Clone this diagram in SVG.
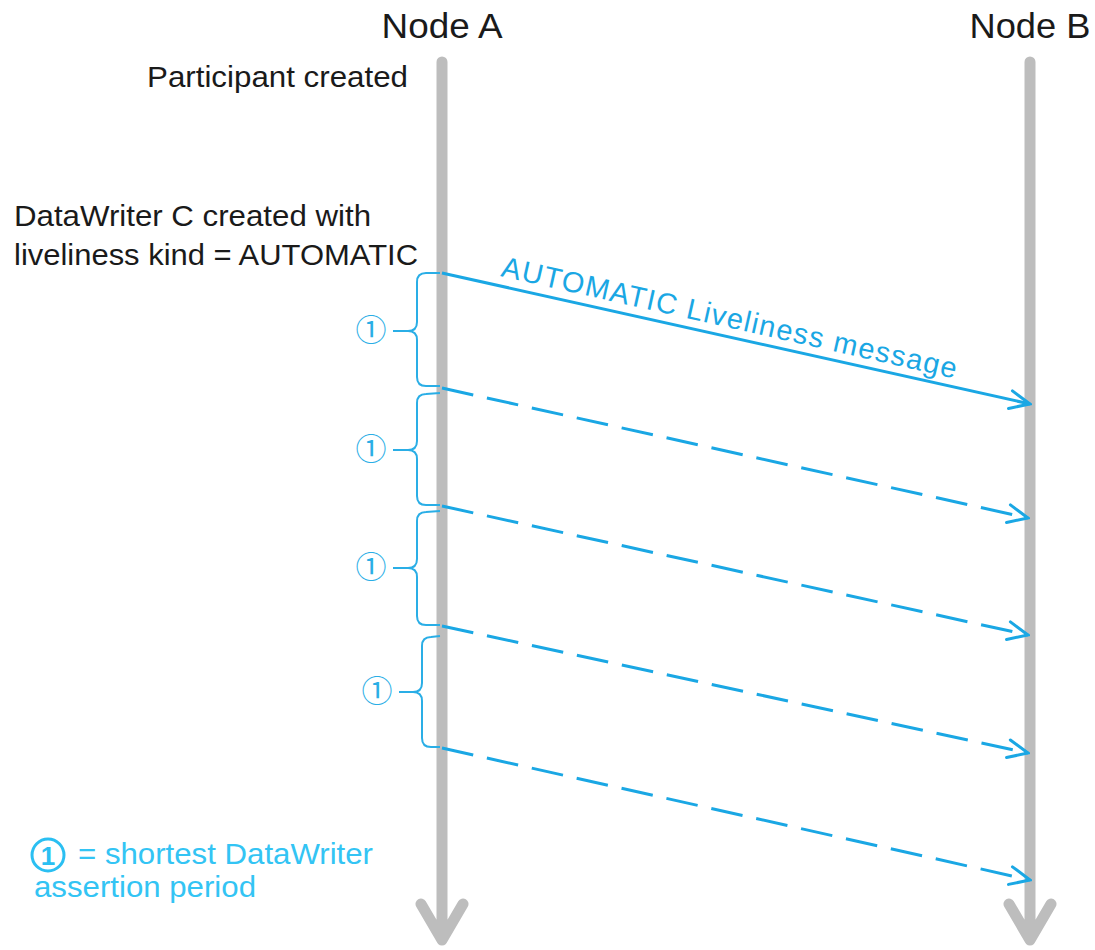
<svg xmlns="http://www.w3.org/2000/svg" width="1095" height="950" viewBox="0 0 1095 950">
<defs>
<style>
.life{stroke:#bdbdbd;stroke-width:11;fill:none;stroke-linecap:round;stroke-linejoin:round}
.msg{stroke:#1aa7e4;stroke-width:3;fill:none}
.dash{stroke-dasharray:32 14}
.brace{stroke:#2aaee6;stroke-width:2;fill:none}
.txt{font-family:"Liberation Sans",Arial,sans-serif;fill:#1a1a1a}
.blue{font-family:"Liberation Sans",Arial,sans-serif;fill:#33c4f4}
.circ{font-family:"Noto Sans CJK JP","DejaVu Sans",sans-serif;fill:#2aaee6;font-size:31px;text-anchor:middle}
</style>
<marker id="open" viewBox="0 0 24 24" refX="22" refY="12" markerWidth="24" markerHeight="24" markerUnits="userSpaceOnUse" orient="auto">
<path d="M2,3 L22,12 L2,21" fill="none" stroke="#1aa7e4" stroke-width="3" stroke-linecap="round"/>
</marker>
</defs>
<g id="nodeA">
<text class="txt" x="442" y="38" font-size="35" text-anchor="middle" textLength="121" lengthAdjust="spacingAndGlyphs">Node A</text>
<path class="life" d="M442,62 L442,940 M421,904 L442,940 L463,904"/>
</g>
<g id="nodeB">
<text class="txt" x="1030" y="38" font-size="35" text-anchor="middle" textLength="121" lengthAdjust="spacingAndGlyphs">Node B</text>
<path class="life" d="M1030,62 L1030,940 M1009,904 L1030,940 L1051,904"/>
</g>
<g id="labels">
<text class="txt" x="147" y="87" font-size="30" textLength="261" lengthAdjust="spacingAndGlyphs">Participant created</text>
<text class="txt" x="14" y="226" font-size="30" textLength="357" lengthAdjust="spacingAndGlyphs">DataWriter C created with</text>
<text class="txt" x="14" y="265" font-size="30" textLength="404" lengthAdjust="spacingAndGlyphs">liveliness kind = AUTOMATIC</text>
</g>
<g id="braces">
<path class="brace" d="M440,273 L426,273 Q417,273 417,282 L417,322 Q417,331 408,331 L393,331 M408,331 Q417,331 417,340 L417,377 Q417,386 426,386 L440,386"/>
<text class="circ" x="371" y="341">①</text>
<path class="brace" d="M440,393 L426,394 Q417,394 417,403 L417,441 Q417,450 408,450 L393,450 M408,450 Q417,450 417,459 L417,496 Q417,505 426,505 L440,505"/>
<text class="circ" x="371" y="460">①</text>
<path class="brace" d="M440,511 L426,512 Q417,512 417,521 L417,559 Q417,568 408,568 L393,568 M408,568 Q417,568 417,577 L417,616 Q417,625 426,625 L440,625"/>
<text class="circ" x="371" y="578">①</text>
<path class="brace" d="M440,636 L431,637 Q422,637 422,646 L422,683 Q422,692 413,692 L399,692 M413,692 Q422,692 422,701 L422,738 Q422,747 431,747 L440,747"/>
<text class="circ" x="377" y="702">①</text>
</g>
<g id="connectors">
<line class="msg" x1="442" y1="273" x2="1030" y2="404" marker-end="url(#open)"/>
<line class="msg dash" x1="442" y1="388" x2="1028" y2="518" marker-end="url(#open)"/>
<line class="msg dash" x1="442" y1="506" x2="1028" y2="635" marker-end="url(#open)"/>
<line class="msg dash" x1="442" y1="626" x2="1028" y2="753" marker-end="url(#open)"/>
<line class="msg dash" x1="442" y1="748" x2="1030" y2="880" marker-end="url(#open)"/>
<text x="500" y="276" font-family="Liberation Sans,Arial,sans-serif" font-size="29" fill="#1aa7e4" transform="rotate(12.7 500 276)" textLength="466" lengthAdjust="spacing">AUTOMATIC Liveliness message</text>
</g>
<g id="legend">
<circle cx="48" cy="855" r="16" fill="none" stroke="#2abff2" stroke-width="3"/>
<text x="48" y="865" font-family="Liberation Sans,Arial,sans-serif" font-size="26" font-weight="bold" fill="#2abff2" text-anchor="middle">1</text>
<text class="blue" x="78" y="864" font-size="30" textLength="295" lengthAdjust="spacingAndGlyphs">= shortest DataWriter</text>
<text class="blue" x="34" y="897" font-size="30" textLength="222" lengthAdjust="spacingAndGlyphs">assertion period</text>
</g>
</svg>
